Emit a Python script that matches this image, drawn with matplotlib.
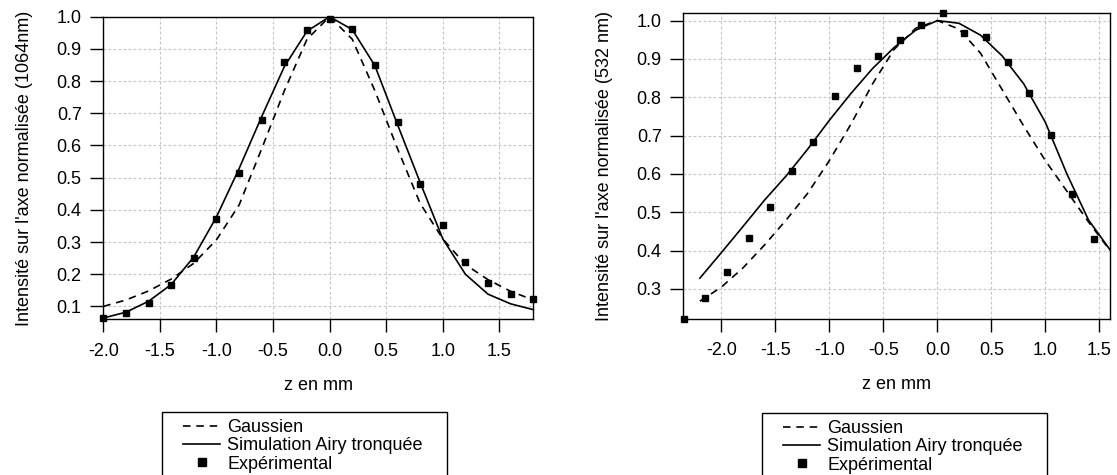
import matplotlib
matplotlib.use("Agg")
import matplotlib.pyplot as plt
from matplotlib.lines import Line2D
from matplotlib.patches import Rectangle

plt.rcParams['font.family'] = ['Liberation Sans', 'DejaVu Sans']

# ---------------- data: left panel (1064 nm) ----------------
z_exp_1064 = [-2.0, -1.8, -1.6, -1.4, -1.2, -1.0, -0.8, -0.6, -0.4, -0.2,
              0.0, 0.2, 0.4, 0.6, 0.8, 1.0, 1.2, 1.4, 1.6, 1.8]
i_exp_1064 = [0.063, 0.081, 0.112, 0.165, 0.249, 0.373, 0.515, 0.679, 0.859, 0.959,
              0.992, 0.962, 0.851, 0.673, 0.481, 0.353, 0.237, 0.173, 0.140, 0.122]

z_mod_1064 = [-2.0, -1.8, -1.6, -1.4, -1.2, -1.0, -0.8, -0.6, -0.4, -0.2,
              0.0, 0.2, 0.4, 0.6, 0.8, 1.0, 1.2, 1.4, 1.6, 1.8]
i_gauss_1064 = [0.100, 0.120, 0.148, 0.185, 0.234, 0.307, 0.415, 0.590, 0.770, 0.930,
                1.000, 0.930, 0.770, 0.590, 0.420, 0.310, 0.230, 0.183, 0.147, 0.120]
i_airy_1064 = [0.064, 0.082, 0.116, 0.168, 0.254, 0.378, 0.528, 0.690, 0.845, 0.955,
               1.000, 0.960, 0.848, 0.665, 0.485, 0.310, 0.200, 0.138, 0.108, 0.090]

# ---------------- data: right panel (532 nm) ----------------
z_exp_532 = [-2.35, -2.15, -1.95, -1.745, -1.55, -1.35, -1.15, -0.95, -0.745, -0.55,
             -0.345, -0.15, 0.053, 0.247, 0.45, 0.652, 0.85, 1.054, 1.248, 1.452]
i_exp_532 = [0.222, 0.277, 0.344, 0.434, 0.514, 0.609, 0.684, 0.803, 0.877, 0.908,
             0.950, 0.989, 1.021, 0.968, 0.958, 0.891, 0.811, 0.702, 0.549, 0.431]

z_mod_532 = [-2.2, -2.0, -1.8, -1.6, -1.4, -1.2, -1.0, -0.8, -0.6, -0.4,
             -0.2, 0.0, 0.2, 0.4, 0.6, 0.8, 1.0, 1.2, 1.4, 1.6]
i_gauss_532 = [0.268, 0.305, 0.355, 0.415, 0.480, 0.550, 0.635, 0.730, 0.835, 0.925,
               0.980, 1.000, 0.978, 0.915, 0.820, 0.725, 0.635, 0.555, 0.475, 0.400]
i_airy_532 = [0.328, 0.395, 0.463, 0.532, 0.595, 0.665, 0.740, 0.810, 0.875, 0.930,
              0.975, 1.000, 0.993, 0.962, 0.908, 0.835, 0.735, 0.600, 0.480, 0.402]

xticks_1064 = [-2.0, -1.5, -1.0, -0.5, 0.0, 0.5, 1.0, 1.5]
yticks_1064 = [0.1, 0.2, 0.3, 0.4, 0.5, 0.6, 0.7, 0.8, 0.9, 1.0]
xticks_532 = [-2.0, -1.5, -1.0, -0.5, 0.0, 0.5, 1.0, 1.5]
yticks_532 = [0.3, 0.4, 0.5, 0.6, 0.7, 0.8, 0.9, 1.0]

labels = ["Gaussien", "Simulation Airy tronquée", "Expérimental"]

W, H = 1117, 475
fig = plt.figure(figsize=(W / 100, H / 100), dpi=100)

FS = 13
LW = 1.2
DASH = (4.5, 3.5)


def px_axes(l, r, t, b):
    return [l / W, (H - b) / H, (r - l) / W, (b - t) / H]


def style(ax, xt, yt, xlim, ylim, ylabel):
    ax.set_xlim(*xlim)
    ax.set_ylim(*ylim)
    ax.set_xticks(xt)
    ax.set_yticks(yt)
    ax.set_xticklabels([f"{v:.1f}" for v in xt])
    ax.set_yticklabels([f"{v:.1f}" for v in yt])
    ax.tick_params(direction='out', length=9.6, width=1.0, labelsize=FS,
                   pad=6, colors='black')
    ax.tick_params(axis='x', pad=7.5)
    ax.grid(True, color='#c4c4c4', linestyle=(0, (2.5, 2.0)), linewidth=0.8)
    ax.set_axisbelow(True)
    for s in ax.spines.values():
        s.set_linewidth(1.0)
        s.set_color('black')
    ax.set_xlabel("z en mm", fontsize=FS, labelpad=12)
    ax.set_ylabel(ylabel, fontsize=FS, labelpad=17)


def draw(ax, zm, ig, ia, ze, ie):
    ax.plot(zm, ig, color='black', lw=LW, linestyle='--', dashes=DASH, clip_on=False)
    ax.plot(zm, ia, color='black', lw=LW, clip_on=False)
    ax.plot(ze, ie, linestyle='none', marker='s', ms=4.2, color='black', clip_on=False)


ax1 = fig.add_axes(px_axes(103.3, 533.3, 16.7, 319.3))
draw(ax1, z_mod_1064, i_gauss_1064, i_airy_1064, z_exp_1064, i_exp_1064)
style(ax1, xticks_1064, yticks_1064, (-2.0, 1.8), (0.060, 1.0),
      "Intensité sur l'axe normalisée (1064nm)")

ax2 = fig.add_axes(px_axes(683.3, 1110.3, 13.3, 318.7))
draw(ax2, z_mod_532, i_gauss_532, i_airy_532, z_exp_532, i_exp_532)
style(ax2, xticks_532, yticks_532, (-2.353, 1.602), (0.2225, 1.019),
      "Intensité sur l'axe normalisée (532 nm)")

handles = [Line2D([], [], color='black', lw=LW, linestyle='--', dashes=DASH),
           Line2D([], [], color='black', lw=LW),
           Line2D([], [], color='black', linestyle='none', marker='s', ms=5.5)]

for box_l, box_r, box_t in [(162, 447, 412), (762, 1047, 413)]:
    fig.patches.append(Rectangle((box_l / W, -0.1), (box_r - box_l) / W,
                                 (H - box_t) / H + 0.1, transform=fig.transFigure,
                                 fill=False, edgecolor='black', linewidth=1.0))
    fig.legend(handles, labels, loc='upper left',
               bbox_to_anchor=((box_l + 21) / W, (H - box_t - 7) / H),
               frameon=False, borderpad=0, fontsize=FS, handlelength=2.05,
               handletextpad=0.4, labelspacing=0.07, borderaxespad=0)

fig.savefig("out.png", dpi=100)
